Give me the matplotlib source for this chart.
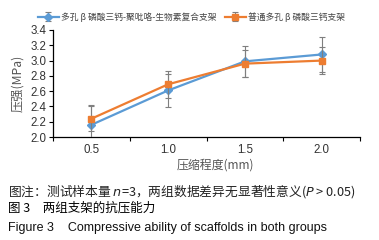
import numpy as np
import matplotlib
matplotlib.use('Agg')
import matplotlib.pyplot as plt

plt.rcParams['font.family'] = ['Noto Sans CJK SC', 'DejaVu Sans']

# data
x_vals = [0.5, 1.0, 1.5, 2.0]
x_labels = ['0.5', '1.0', '1.5', '2.0']
blue_y = [2.16, 2.61, 2.99, 3.08]
blue_err = [0.26, 0.22, 0.20, 0.23]
orange_y = [2.24, 2.69, 2.96, 3.00]
orange_err = [0.16, 0.18, 0.18, 0.18]
blue_name = '多孔 β 磷酸三钙-聚吡咯-生物素复合支架'
orange_name = '普通多孔 β 磷酸三钙支架'

fig = plt.figure(figsize=(3.79, 2.40), dpi=100)
ax = fig.add_axes([0.14, 0.429, 0.81, 0.446])

ax.errorbar(x_vals, blue_y, yerr=blue_err, color='#5B9BD5', lw=1.6,
            marker='D', ms=4, ecolor='#7f7f7f', elinewidth=0.8, capsize=2.5,
            capthick=0.8, label=blue_name, zorder=3)
ax.errorbar(x_vals, orange_y, yerr=orange_err, color='#ED7D31', lw=1.6,
            marker='s', ms=5, ecolor='#7f7f7f', elinewidth=0.8, capsize=2.5,
            capthick=0.8, label=orange_name, zorder=4)

ax.set_xlim(0.25, 2.25)
ax.set_ylim(2.0, 3.4)
yt = np.arange(2.0, 3.41, 0.2)
ax.set_yticks(yt)
ax.set_yticklabels(['%.1f' % v for v in yt], family='Liberation Sans')
ax.set_xticks(x_vals)
ax.set_xticklabels(x_labels, family='Liberation Sans')
ax.set_xticks([0.25, 0.75, 1.25, 1.75, 2.25], minor=True)
ax.tick_params(axis='x', which='major', length=0, labelsize=8.3, labelcolor='#333333', pad=5)
ax.tick_params(axis='x', which='minor', length=3, width=0.8, direction='out')
ax.tick_params(axis='y', length=3, width=0.8, labelsize=8.3, labelcolor='#333333', pad=2)
for s in ['top', 'right']:
    ax.spines[s].set_visible(False)
for s in ['left', 'bottom']:
    ax.spines[s].set_linewidth(0.9)

ax.set_xlabel('压缩程度(mm)', fontsize=8.6, color='#555555')
ax.xaxis.set_label_coords(0.53, -0.2)
ax.set_ylabel('压强(MPa)', fontsize=8.8, color='#555555', labelpad=4)

ax.legend(loc='lower left', bbox_to_anchor=(-0.062, 1.045), ncol=2, frameon=False,
          fontsize=6.3, handlelength=2.4, columnspacing=0.9, borderaxespad=0,
          handletextpad=0.3, labelcolor='#444444')

fig.text(0.02, 0.205, '图注：测试样本量 $n$=3，两组数据差异无显著性意义($P$ > 0.05)',
         fontsize=9.2, color='#222222', va='center')
fig.text(0.02, 0.132, '图 3　两组支架的抗压能力', fontsize=9.0, color='#000000',
         va='center')
fig.text(0.02, 0.05, 'Figure 3    Compressive ability of scaffolds in both groups',
         fontsize=9.0, color='#111111', va='center', family='Liberation Sans')

fig.savefig('out.png', dpi=100)
